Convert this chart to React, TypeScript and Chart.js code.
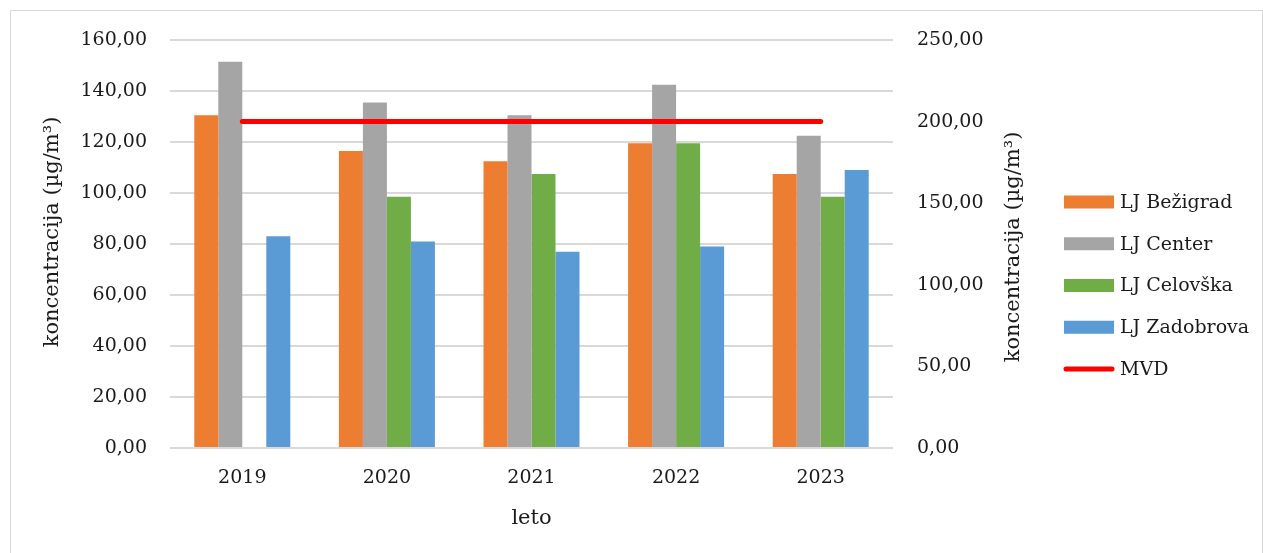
import React, { useEffect, useRef } from "react";
import { Chart, registerables } from "chart.js";

Chart.register(...registerables);

// ---- data ----
const years = ["2019", "2020", "2021", "2022", "2023"];
const seriesNames = ["LJ Bežigrad", "LJ Center", "LJ Celovška", "LJ Zadobrova", "MVD"];
const bezigrad = [130.5, 116.5, 112.5, 119.5, 107.5];
const centerSt = [151.5, 135.5, 130.5, 142.5, 122.5];
const celovska: (number | null)[] = [null, 98.5, 107.5, 119.5, 98.5];
const zadobrova = [83, 81, 77, 79, 109];
const mvd = [200, 200, 200, 200, 200];

const leftAxis = { min: 0, max: 160, step: 20 };
const rightAxis = { min: 0, max: 250, step: 50 };

const yTitle = "koncentracija (µg/m³)";
const xTitle = "leto";

const colors = ["#ED7D31", "#A5A5A5", "#70AD47", "#5B9BD5", "#FF0000"];
const FONT = '"DejaVu Serif", serif';
const TEXT = "#1a1a1a";

const fmt = (v: number | string) => Number(v).toFixed(2).replace(".", ",");

const overlay = {
  id: "overlay",
  afterDraw(chart: any) {
    const ctx = chart.ctx as CanvasRenderingContext2D;
    ctx.save();
    ctx.fillStyle = TEXT;
    ctx.font = `21px ${FONT}`;
    ctx.textAlign = "center";
    ctx.textBaseline = "middle";
    // left axis title
    ctx.save();
    ctx.translate(53, 232);
    ctx.rotate(-Math.PI / 2);
    ctx.fillText(yTitle, 0, 0);
    ctx.restore();
    // right axis title
    ctx.save();
    ctx.translate(1014, 247);
    ctx.rotate(-Math.PI / 2);
    ctx.fillText(yTitle, 0, 0);
    ctx.restore();

    // legend
    const lx = 1064;
    const boxW = 50;
    const boxH = 13;
    const top = 202;
    const step = 41.75;
    ctx.font = `19px ${FONT}`;
    ctx.textAlign = "left";
    chart.data.datasets.forEach((ds: any, i: number) => {
      const y = top + i * step;
      if (ds.type === "line") {
        ctx.strokeStyle = ds.borderColor;
        ctx.lineWidth = 5;
        ctx.lineCap = "round";
        ctx.beginPath();
        ctx.moveTo(lx + 2, y);
        ctx.lineTo(lx + boxW - 2, y);
        ctx.stroke();
      } else {
        ctx.fillStyle = ds.backgroundColor;
        ctx.fillRect(lx, y - boxH / 2, boxW, boxH);
      }
      ctx.fillStyle = TEXT;
      ctx.fillText(ds.label, lx + boxW + 6, y + 1);
    });
    ctx.restore();
  },
};

export default function App() {
  const ref = useRef<HTMLCanvasElement | null>(null);

  useEffect(() => {
    document.body.style.overflow = "hidden";
    const canvas = ref.current!;
    const barDs = (i: number, data: (number | null)[]) => ({
      type: "bar" as const,
      label: seriesNames[i],
      data,
      backgroundColor: colors[i],
      borderWidth: 0,
      yAxisID: "y",
      order: 1,
      categoryPercentage: 0.664,
      barPercentage: 1.0,
    });
    const chart = new Chart(canvas, {
      type: "bar",
      data: {
        labels: years,
        datasets: [
          barDs(0, bezigrad),
          barDs(1, centerSt),
          barDs(2, celovska),
          barDs(3, zadobrova),
          {
            type: "line" as const,
            label: seriesNames[4],
            data: mvd,
            borderColor: colors[4],
            backgroundColor: colors[4],
            borderWidth: 5,
            borderCapStyle: "round",
            pointRadius: 0,
            yAxisID: "y1",
            order: 0,
          } as any,
        ],
      },
      options: {
        responsive: false,
        animation: false,
        devicePixelRatio: 1,
        layout: { padding: { top: 40, left: 0, right: 0, bottom: 0 } },
        plugins: {
          legend: { display: false },
          tooltip: { enabled: false },
        },
        scales: {
          x: {
            offset: true,
            grid: { display: false, drawTicks: false },
            border: { display: false },
            ticks: {
              color: TEXT,
              font: { family: FONT, size: 19 },
              padding: 19,
              maxRotation: 0,
            },
            title: {
              display: true,
              text: xTitle,
              color: TEXT,
              font: { family: FONT, size: 21 },
              padding: { top: 0, bottom: 22 },
            },
            afterFit: (s: any) => {
              s.height = 105;
            },
          },
          y: {
            position: "left",
            min: leftAxis.min,
            max: leftAxis.max,
            grid: { color: "#d9d9d9", lineWidth: 2, drawTicks: false },
            border: { display: false },
            ticks: {
              stepSize: leftAxis.step,
              color: TEXT,
              font: { family: FONT, size: 19 },
              padding: 23,
              callback: (v: any) => fmt(v),
            },
            afterFit: (s: any) => {
              s.width = 170;
            },
          },
          y1: {
            position: "right",
            min: rightAxis.min,
            max: rightAxis.max,
            grid: { display: false, drawTicks: false },
            border: { display: false },
            ticks: {
              stepSize: rightAxis.step,
              color: TEXT,
              font: { family: FONT, size: 19 },
              padding: 24,
              callback: (v: any) => fmt(v),
            },
            afterFit: (s: any) => {
              s.width = 370;
            },
          },
        },
      },
      plugins: [overlay],
    });
    return () => chart.destroy();
  }, []);

  return (
    <>
      <div
        style={{
          position: "fixed",
          left: 10,
          top: 10,
          width: 1253,
          height: 600,
          border: "1px solid #d9d9d9",
          boxSizing: "border-box",
          background: "#fff",
        }}
      />
      <canvas
        ref={ref}
        width={1263}
        height={553}
        style={{ position: "fixed", left: 0, top: 0, width: 1263, height: 553 }}
      />
    </>
  );
}
